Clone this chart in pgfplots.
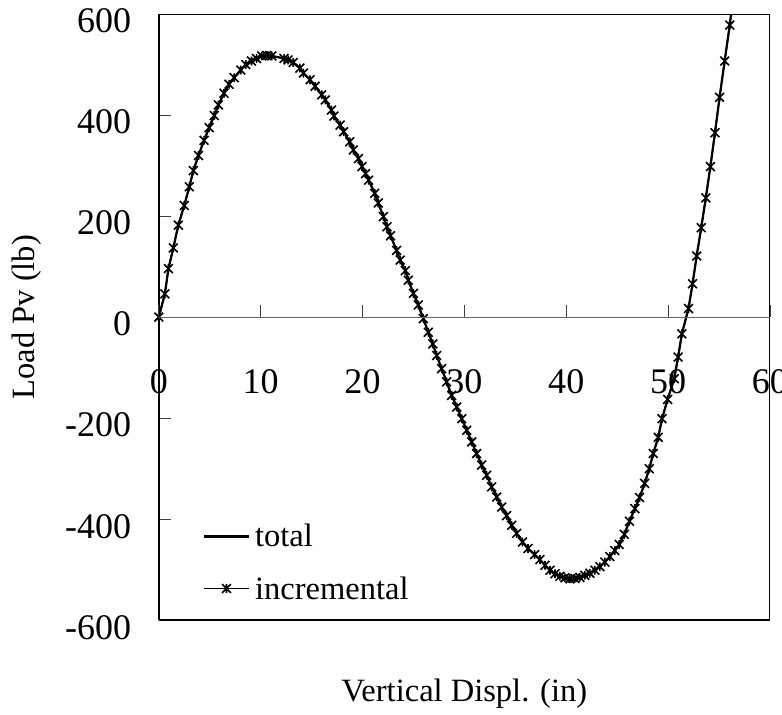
\documentclass[border=0pt]{standalone}
\usepackage{pgfplots}
\pgfplotsset{compat=1.18}
\usepackage{pgfplotstable}
\usepackage{fontspec}
\setmainfont{Liberation Serif}
\usetikzlibrary{calc}
\newcommand\f{\fontsize{32.5pt}{39pt}\selectfont}
\newcommand\ft{\fontsize{36pt}{43pt}\selectfont}

\pgfdeclareplotmark{xstar}{%
  \pgfpathmoveto{\pgfqpoint{-\pgfplotmarksize}{-\pgfplotmarksize}}%
  \pgfpathlineto{\pgfqpoint{\pgfplotmarksize}{\pgfplotmarksize}}%
  \pgfpathmoveto{\pgfqpoint{-\pgfplotmarksize}{\pgfplotmarksize}}%
  \pgfpathlineto{\pgfqpoint{\pgfplotmarksize}{-\pgfplotmarksize}}%
  \pgfpathmoveto{\pgfqpoint{0pt}{-\pgfplotmarksize}}%
  \pgfpathlineto{\pgfqpoint{0pt}{\pgfplotmarksize}}%
  \pgfusepathqstroke}

\pgfplotstableread{
x y
0 0
0.6 46
0.95 96
1.43 137
1.92 182
2.5 221
3.0 258
3.4 290
3.9 320
4.45 350
4.95 375
5.45 399
5.85 420
6.4 443
6.9 461
7.4 474
8.05 489
8.55 500
9.1 507
9.6 512
10.1 517
10.6 518
11.1 517
12.3 512
12.7 509
13.2 504
13.85 493
14.2 483
14.85 470
15.35 457
16.0 440
16.35 430
16.95 410
17.2 398
17.8 380
18.15 367
18.75 347
19.1 331
19.6 314
19.95 298
20.3 284
20.6 271
21.2 245
21.55 226
22.05 199
22.4 179
22.75 161
23.35 132
23.7 113
24.2 92
24.5 73
25.0 47
25.48 24
25.97 -3
26.46 -30
26.9 -53
27.28 -76
27.77 -102
28.26 -128
28.75 -155
29.25 -178
29.74 -201
30.23 -224
30.72 -247
31.2 -270
31.7 -293
32.19 -313
32.68 -336
33.17 -356
33.66 -376
34.15 -393
34.64 -412
35.13 -428
35.7 -445
36.25 -458
36.9 -470
37.42 -480
37.91 -491
38.4 -501
38.9 -508
39.38 -513
39.87 -516
40.36 -518
40.85 -517
41.34 -515
41.83 -511
42.32 -507
42.81 -501
43.3 -494
43.79 -485
44.28 -474
44.77 -462
45.2 -450
45.7 -430
46.2 -404
46.74 -379
47.2 -357
47.7 -329
48.15 -300
48.54 -270
49.03 -238
49.4 -201
49.95 -163
50.6 -122
50.98 -79
51.35 -33
52.0 17
52.4 66
52.8 121
53.25 177
53.7 236
54.15 298
54.6 365
55.05 435
55.55 507
56.05 578
56.3 620
}\data

\begin{document}
\begin{tikzpicture}
\begin{axis}[
  name=ax,
  scale only axis, width=611pt, height=606pt,
  xmin=0, xmax=60, ymin=-600, ymax=600,
  axis x line*=middle, axis y line*=left,
  xtick=\empty,
  ytick={-600,-400,-200,0,200,400,600},
  yticklabels={-600,-400,-200,0,200,400,600},
  tick align=inside,
  major tick length=12pt,
  tick style={black!75, line width=0.9pt},
  x axis line style={black!60, line width=1pt},
  y axis line style={black, line width=1.8pt},
  tick label style={font=\ft},
  y tick label style={xshift=-24pt, yshift=-7pt},
  xlabel={Vertical Displ. (in)},
  ylabel={Load Pv (lb)},
  label style={font=\f},
  xlabel style={at={(axis description cs:0.5,0)}, anchor=base, yshift=-81.5pt},
  ylabel style={at={(axis description cs:0,0.5)}, anchor=center, yshift=132pt},
  legend style={draw=none, fill=none, at={(axis description cs:0.067,0.165)}, anchor=north west, font=\f, row sep=24pt, nodes={inner xsep=5pt}},
  legend cell align=left,
  legend image code/.code={\draw[mark repeat=2,mark phase=2,#1] plot coordinates {(0pt,0pt) (22.5pt,0pt) (45pt,0pt)};},
]
\addplot[black, line width=2.2pt] table {\data};
\addlegendentry{total}
\addplot[black, line width=1.5pt, mark=xstar, mark size=4.4pt, mark options={line width=1.6pt, solid}] table {\data};
\addlegendentry{incremental}
\draw[black, line width=1.6pt] (rel axis cs:0,0) rectangle (rel axis cs:1,1);
\end{axis}
% overlay axis carrying only the x ticks and their labels on the zero line
\begin{axis}[
  scale only axis, width=611pt, height=606pt,
  at={(ax.south west)}, anchor=south west,
  xmin=100, xmax=160, ymin=-600, ymax=600,
  axis x line*=middle, axis y line=none,
  xtick={100,110,120,130,140,150,160},
  xticklabels={0,10,20,30,40,50,60},
  tick align=inside,
  major tick length=12pt,
  tick style={black!75, line width=0.9pt},
  x axis line style={black!60, line width=1pt},
  tick label style={font=\ft},
  x tick label style={yshift=-48.5pt},
]
\end{axis}
\pgfresetboundingbox
\path ($(ax.south west)+(-158.7pt,-94pt)$) rectangle ($(ax.north east)+(12pt,14pt)$);
\end{tikzpicture}
\end{document}
